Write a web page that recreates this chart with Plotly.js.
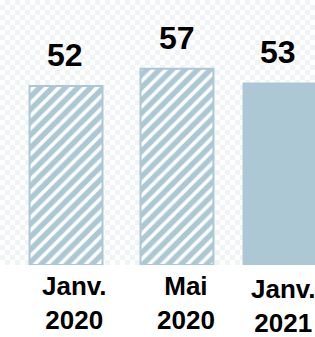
<!DOCTYPE html>
<html>
<head>
<meta charset="utf-8">
<script src="https://cdn.plot.ly/plotly-3.0.1.min.js"></script>
<style>
  html, body { margin:0; padding:0; background:#fff; }
  #chart {
    width:315px; height:337px;
    background:
      linear-gradient(to bottom, rgba(255,255,255,0) 265px, #ffffff 265px),
      repeating-conic-gradient(#f1f4f4 0 25%, #ffffff 0 50%) 0 0 / 10px 10px;
  }
</style>
</head>
<body>
<div id="chart"></div>
<script>
const categories = ["Janv. 2020", "Mai 2020", "Janv. 2021"];
const tickLabels = ["Janv.<br>2020", "Mai<br>2020", "Janv.<br>2021"];
const values = [52, 57, 53];
const hatched = [true, true, false];

const barColor = "#abc8d4";
const font = "Liberation Sans, Arial, Helvetica, sans-serif";
const barWidth = 0.685;

const traces = [
  {
    type: "bar",
    x: categories.filter((c, i) => hatched[i]),
    y: values.filter((v, i) => hatched[i]),
    width: barWidth,
    offset: [-barWidth / 2, -barWidth / 2 + 0.042],
    marker: {
      color: "#ffffff",
      line: { color: barColor, width: 2 },
      pattern: { shape: "/", fgcolor: barColor, bgcolor: "#ffffff", size: 9, solidity: 0.6, fillmode: "replace" }
    },
    hoverinfo: "none"
  },
  {
    type: "bar",
    x: categories.filter((c, i) => !hatched[i]),
    y: values.filter((v, i) => !hatched[i]),
    width: barWidth,
    marker: { color: barColor, line: { width: 0 } },
    hoverinfo: "none"
  }
];

const labelShift = [{x: 8, y: 0}, {x: 13, y: 0}, {x: 4, y: -3}];
const valueShift = [-1, 4, -1];

const annotations = [];
categories.forEach((c, i) => {
  annotations.push({
    x: c, y: values[i], xref: "x", yref: "y",
    text: "<b>" + values[i] + "</b>", showarrow: false,
    yanchor: "bottom", yshift: 11, xshift: valueShift[i],
    font: { family: font, size: 32, color: "#000" }
  });
  annotations.push({
    x: c, y: 0, xref: "x", yref: "paper",
    text: "<b>" + tickLabels[i] + "</b>", showarrow: false,
    yanchor: "top", yshift: -5 + labelShift[i].y, xshift: labelShift[i].x,
    align: "center", borderpad: 0,
    font: { family: font, size: 26, color: "#000" }
  });
});

const layout = {
  width: 315, height: 337,
  margin: { l: 0, r: 0, t: 0, b: 72, pad: 0 },
  paper_bgcolor: "rgba(0,0,0,0)",
  plot_bgcolor: "rgba(0,0,0,0)",
  showlegend: false,
  barmode: "overlay",
  xaxis: {
    type: "category", categoryorder: "array", categoryarray: categories,
    range: [-0.62, 2.338], showticklabels: false, showgrid: false, zeroline: false, showline: false, ticks: ""
  },
  yaxis: {
    range: [0, 77], showticklabels: false, showgrid: false, zeroline: false, showline: false, ticks: ""
  },
  annotations: annotations
};

Plotly.newPlot("chart", traces, layout, { displayModeBar: false, staticPlot: true });
</script>
</body>
</html>
